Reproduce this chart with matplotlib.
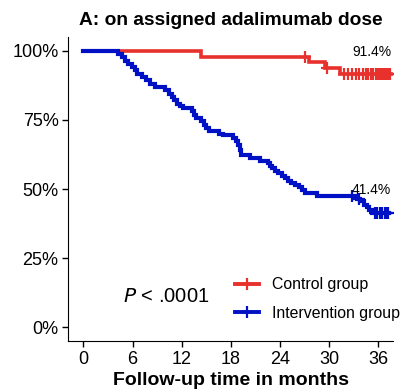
import numpy as np
import matplotlib
matplotlib.use("Agg")
import matplotlib.pyplot as plt
from matplotlib.lines import Line2D

plt.rcParams['font.family'] = ['Liberation Sans', 'DejaVu Sans']

# Control group (red): event times (months) and survival (%) after each step
times_ctrl = [14.3, 27.5, 29.5, 31.3]
surv_ctrl = [97.6, 95.8, 93.6, 91.4]
cens_ctrl = [27.1, 29.7, 31.8, 32.3, 32.8, 33.3, 33.7, 34.1, 34.5, 34.8, 35.1,
             35.4, 35.7, 35.9, 36.1, 36.3, 36.5, 36.7, 36.9, 37.1, 37.3, 37.5]
end_ctrl = 37.6

# Intervention group (blue)
times_int = [4.2, 4.7, 5.1, 5.5, 5.9, 6.3, 6.6, 7.1, 7.6, 8.1, 8.7, 10.0, 10.4,
             10.8, 11.1, 11.4, 11.8, 12.2, 13.2, 13.5, 13.8, 14.3, 14.7, 15.0,
             15.3, 16.5, 17.1, 18.3, 18.6, 18.9, 19.1, 19.3, 20.3, 21.6, 22.6,
             22.8, 23.0, 23.4, 23.8, 24.2, 24.6, 25.0, 25.4, 25.9, 26.3, 26.7,
             27.1, 28.5, 33.4, 33.8, 34.3, 34.6, 34.9, 35.2]
surv_int = [98.8, 97.6, 96.4, 95.2, 94.0, 92.8, 91.6, 90.4, 89.2, 88.0, 86.8,
            85.6, 84.4, 83.2, 82.0, 80.8, 80.0, 79.2, 78.0, 76.8, 75.6, 74.4,
            73.2, 72.0, 70.8, 70.0, 69.4, 68.4, 67.2, 66.0, 64.0, 62.3, 61.2,
            60.0, 59.4, 58.4, 57.5, 56.6, 55.7, 54.8, 53.9, 53.0, 52.1, 51.4,
            50.7, 49.6, 48.5, 47.3, 46.4, 45.5, 44.3, 43.4, 42.4, 41.4]
cens_int = [32.8, 33.6, 35.6, 35.9, 36.2, 36.5, 36.8, 37.0, 37.2]
end_int = 37.3

red = '#e8302c'
blue = '#0010c4'


def km_path(times, surv, end):
    t = np.concatenate([[0], times, [end]])
    s = np.concatenate([[100], surv, [surv[-1]]])
    return t, s


def surv_at(times, surv, x):
    t = np.concatenate([[0], times])
    s = np.concatenate([[100], surv])
    idx = np.searchsorted(t, x, side='right') - 1
    return s[idx]


fig = plt.figure(figsize=(4.14, 3.92), dpi=100)
ax = fig.add_axes([0.165, 0.130, 0.784, 0.775])

for times, surv, end, cens, col, lw in [
        (times_ctrl, surv_ctrl, end_ctrl, cens_ctrl, red, 2.6),
        (times_int, surv_int, end_int, cens_int, blue, 3.0)]:
    t, s = km_path(times, surv, end)
    ax.step(t, s, where='post', color=col, lw=lw, solid_joinstyle='miter')
    ax.plot(cens, surv_at(times, surv, np.array(cens)), ls='none', marker='+',
            ms=8, mew=1.6, color=col)

ax.text(35.2, 99.3, '91.4%', ha='center', va='center', fontsize=10)
ax.text(35.2, 49.5, '41.4%', ha='center', va='center', fontsize=10)
ax.text(10.1, 11.2, r'$P$ < .0001', ha='center', va='center', fontsize=14.5)

handles = [Line2D([], [], color=red, lw=2.8, marker='+', ms=9, mew=1.6),
           Line2D([], [], color=blue, lw=2.8, marker='+', ms=9, mew=1.6)]
ax.legend(handles, ['Control group', 'Intervention group'], loc='upper left',
          bbox_to_anchor=(0.515, 0.21), frameon=False, fontsize=11.4,
          handlelength=1.5, handletextpad=0.8, labelspacing=0.85,
          borderpad=0, borderaxespad=0)

ax.set_xlim(-1.85, 37.8)
ax.set_ylim(-4.9, 104.8)
ax.set_xticks([0, 6, 12, 18, 24, 30, 36])
ax.set_yticks([0, 25, 50, 75, 100])
ax.set_yticklabels(['0%', '25%', '50%', '75%', '100%'])
ax.spines['top'].set_visible(False)
ax.spines['right'].set_visible(False)
ax.tick_params(labelsize=13, length=4, width=1, color='black', pad=3)
ax.set_xlabel('Follow-up time in months', fontsize=14, fontweight='bold',
              labelpad=3)
ax.set_title('A: on assigned adalimumab dose', fontsize=13.8,
             fontweight='bold', pad=9)

fig.savefig('out.png', dpi=100)
